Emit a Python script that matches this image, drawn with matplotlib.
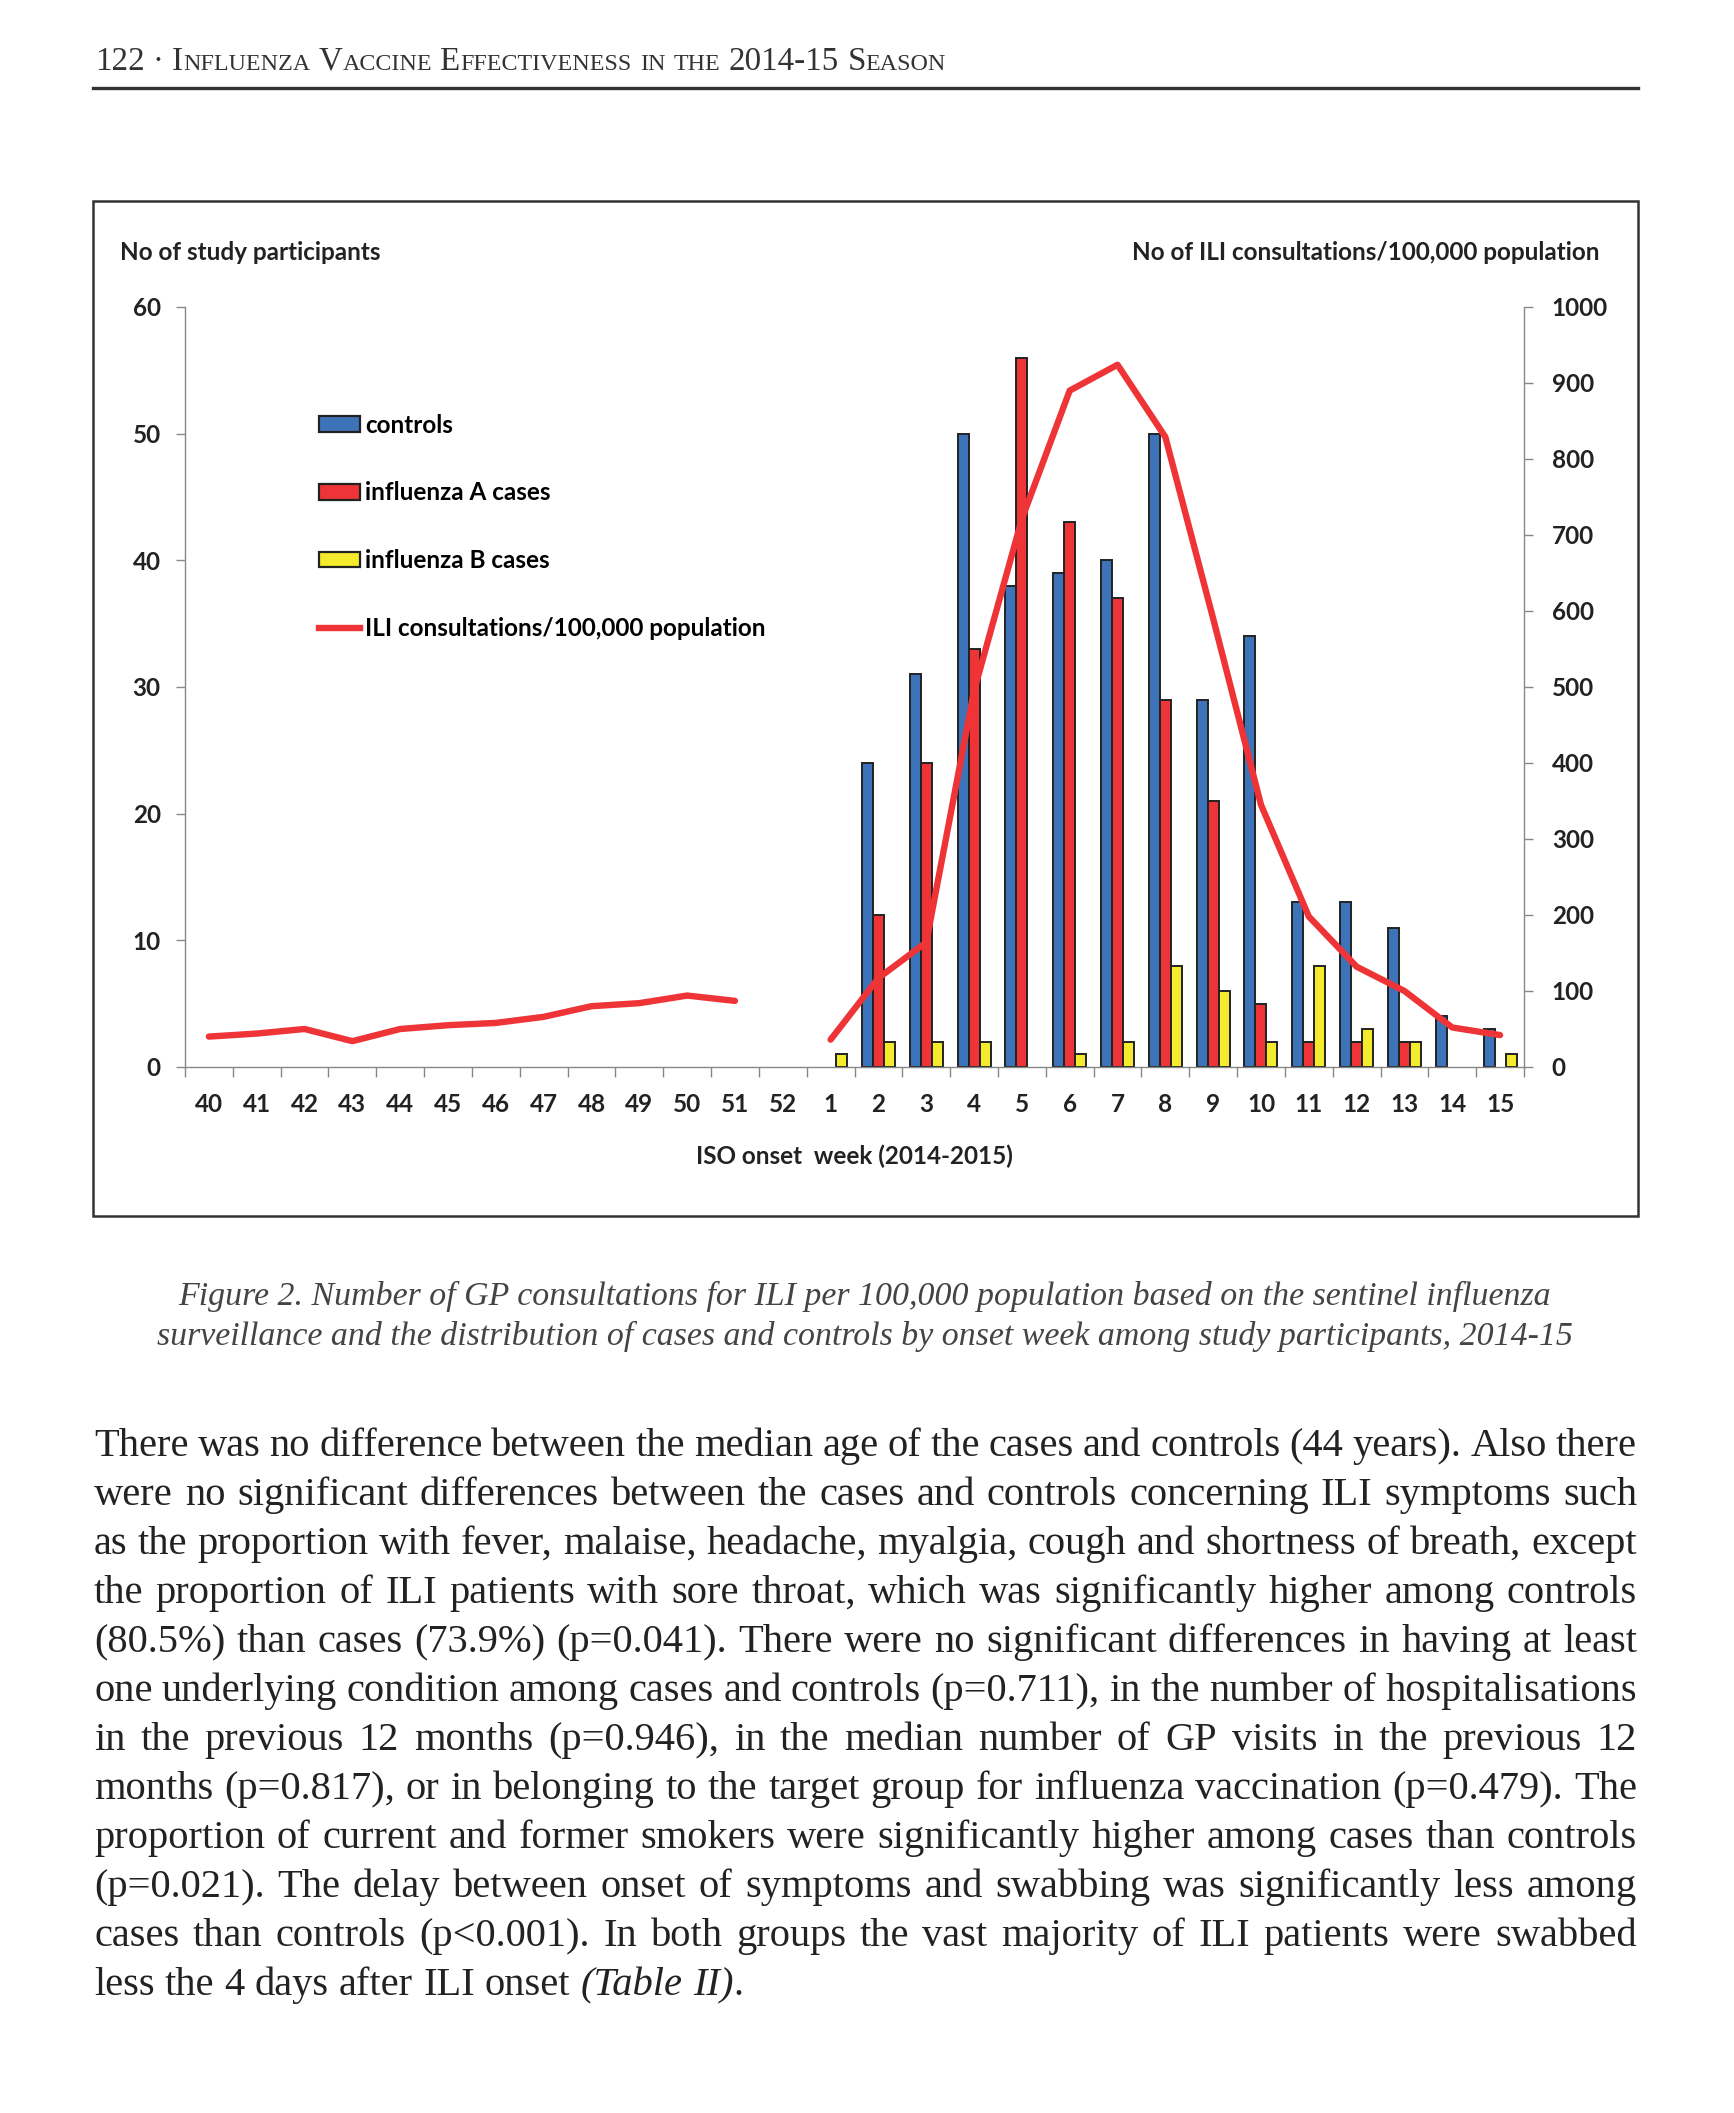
import numpy as np
import matplotlib
matplotlib.use('Agg')
import matplotlib.pyplot as plt
from matplotlib.patches import Patch, Rectangle
from matplotlib.lines import Line2D

# data
weeks = [40, 41, 42, 43, 44, 45, 46, 47, 48, 49, 50, 51, 52,
         1, 2, 3, 4, 5, 6, 7, 8, 9, 10, 11, 12, 13, 14, 15]
controls = [0, 0, 0, 0, 0, 0, 0, 0, 0, 0, 0, 0, 0,
            0, 24, 31, 50, 38, 39, 40, 50, 29, 34, 13, 13, 11, 4, 3]
flu_a = [0, 0, 0, 0, 0, 0, 0, 0, 0, 0, 0, 0, 0,
         0, 12, 24, 33, 56, 43, 37, 29, 21, 5, 2, 2, 2, 0, 0]
flu_b = [0, 0, 0, 0, 0, 0, 0, 0, 0, 0, 0, 0, 0,
         1, 2, 2, 2, 0, 1, 2, 8, 6, 2, 8, 3, 2, 0, 1]
ili = [40, 44, 50, 34, 50, 55, 58, 66, 80, 84, 94, 87, np.nan,
       36, 117, 164, 495, 721, 890, 924, 829, 590, 345, 198, 132, 100, 52, 42]

series_names = ['controls', 'influenza A cases', 'influenza B cases']
ili_name = 'ILI consultations/100,000 population'
left_title = 'No of study participants'
right_title = 'No of ILI consultations/100,000 population'
x_title = 'ISO onset  week (2014-2015)'

caption = ['Figure 2. Number of GP consultations for ILI per 100,000 population based on the sentinel influenza',
           'surveillance and the distribution of cases and controls by onset week among study participants, 2014-15']

body = ['There was no difference between the median age of the cases and controls (44 years). Also there',
        'were no significant differences between the cases and controls concerning ILI symptoms such',
        'as the proportion with fever, malaise, headache, myalgia, cough and shortness of breath, except',
        'the proportion of ILI patients with sore throat, which was significantly higher among controls',
        '(80.5%) than cases (73.9%) (p=0.041). There were no significant differences in having at least',
        'one underlying condition among cases and controls (p=0.711), in the number of hospitalisations',
        'in the previous 12 months (p=0.946), in the median number of GP visits in the previous 12',
        'months (p=0.817), or in belonging to the target group for influenza vaccination (p=0.479). The',
        'proportion of current and former smokers were significantly higher among cases than controls',
        '(p=0.021). The delay between onset of symptoms and swabbing was significantly less among',
        'cases than controls (p<0.001). In both groups the vast majority of ILI patients were swabbed']
body_last = 'less the 4 days after ILI onset'
body_last_it = '(Table II)'

BLUE = '#3d74b9'
RED = '#ee3437'
YEL = '#f3eb2c'
SANS = 'Lato'
SERIF = 'Liberation Serif'
CS = 17.5  # chart font size

fig = plt.figure(figsize=(17.34, 21.13), dpi=100)

# positions in pixels of the 1734x2113 page
def fx(x):
    return x / 1734.0

def fy(y):
    return 1 - y / 2113.0

# chart axes
ax = fig.add_axes([fx(185), fy(1067), fx(1524) - fx(185), fy(307) - fy(1067)])
x = np.arange(len(weeks))
w = 0.23
for vals, off, col in [(controls, -w, BLUE), (flu_a, 0, RED), (flu_b, w, YEL)]:
    v = np.array(vals)
    m = v > 0
    ax.bar(x[m] + off, v[m], width=w, color=col, edgecolor='#222222', linewidth=1.4, zorder=2)

ax.set_xlim(-0.5, len(weeks) - 0.5)
ax.set_ylim(0, 60)
ax.set_yticks(range(0, 61, 10))
ax.set_xticks(x)
ax.set_xticklabels([str(k) for k in weeks])
ax.set_xticks(np.arange(len(weeks) + 1) - 0.5, minor=True)
ax.tick_params(axis='x', which='major', length=0, pad=19)
ax.tick_params(axis='x', which='minor', length=7.2, color='#888888', width=1)
ax.tick_params(axis='y', length=6.5, color='#888888', width=1, pad=11)
for s in ['top', 'right']:
    ax.spines[s].set_visible(False)
for s in ['left', 'bottom']:
    ax.spines[s].set_color('#888888')
    ax.spines[s].set_linewidth(1)

ax2 = ax.twinx()
ax2.plot(x, ili, color=RED, lw=4.6, solid_capstyle='round', zorder=3)
ax2.set_ylim(0, 1000)
ax2.set_yticks(range(0, 1001, 100))
ax2.tick_params(axis='y', length=6.5, color='#888888', width=1, pad=13.5)
for s in ['top', 'left', 'bottom']:
    ax2.spines[s].set_visible(False)
ax2.spines['right'].set_color('#888888')
ax2.spines['right'].set_linewidth(1)

for a in [ax, ax2]:
    for lab in a.get_xticklabels() + a.get_yticklabels():
        lab.set_family(SANS)
        lab.set_weight('bold')
        lab.set_fontsize(CS)
        lab.set_color('#222222')

handles = [Patch(facecolor=c, edgecolor='#222222', linewidth=1.6) for c in [BLUE, RED, YEL]]
handles.append(Line2D([], [], color=RED, lw=4.6))
ax.legend(handles, series_names + [ili_name], loc='upper left', bbox_to_anchor=(0.1001, 0.8597),
          frameon=False, borderpad=0, borderaxespad=0, handlelength=1.69, handleheight=0.62,
          handletextpad=0.2, labelspacing=1.84,
          prop={'family': SANS, 'weight': 'bold', 'size': CS})

fig.text(fx(120), fy(253), left_title, family=SANS, weight='bold', size=CS, va='center', color='#222222')
fig.text(fx(1600), fy(253), right_title, family=SANS, weight='bold', size=CS, va='center', ha='right',
         color='#222222')
fig.text(fx(854), fy(1156), x_title, family=SANS, weight='bold', size=CS, va='center', ha='center',
         color='#222222')

# chart frame and header rule
fig.patches.append(Rectangle((fx(93), fy(1216)), fx(1638) - fx(93), fy(201) - fy(1216),
                             transform=fig.transFigure, fill=False, edgecolor='#333333', lw=1.8))
fig.lines.append(Line2D([fx(93), fx(1638)], [fy(88), fy(88)], transform=fig.transFigure,
                        color='#333333', lw=2.4))

r = fig.canvas.get_renderer()
W = fig.bbox.width

def width(t):
    return t.get_window_extent(r).width

def place_words(words, x0, y, x1=None, gap=None):
    arts = [[fig.text(0, y, s, va='baseline', **kw) for s, kw in wd] for wd in words]
    ws = [sum(width(a) for a in segs) for segs in arts]
    if x1 is not None:
        gap = ((x1 - x0) * W - sum(ws)) / (len(ws) - 1)
    xx = x0 * W
    for segs, wd in zip(arts, ws):
        p = xx
        for a in segs:
            a.set_x(p / W)
            p += width(a)
        xx += wd + gap

def space_w(**kw):
    a = fig.text(0, 0, 'n n', **kw)
    b = fig.text(0, 0, 'nn', **kw)
    g = width(a) - width(b)
    a.remove()
    b.remove()
    return g

# running header in small caps
big = dict(family=SERIF, size=23.8, color='#333333')
sml = dict(family=SERIF, size=17.3, color='#333333')
head = [[('122', big)], [('·', big)], [('I', big), ('NFLUENZA', sml)], [('V', big), ('ACCINE', sml)],
        [('E', big), ('FFECTIVENESS', sml)], [('IN', sml)], [('THE', sml)], [('2014-15', big)],
        [('S', big), ('EASON', sml)]]
place_words(head, fx(95), fy(70), gap=space_w(**big))

# caption
for i, line in enumerate(caption):
    fig.text(fx(865), fy(1305 + 40 * i), line, family=SERIF, style='italic', size=24.4,
             ha='center', va='baseline', color='#444444')

# body text, justified
bkw = dict(family=SERIF, size=29.2, color='#222222')
for i, line in enumerate(body):
    place_words([[(t, bkw)] for t in line.split()], fx(94), fy(1456 + 49 * i), x1=fx(1637))
ikw = dict(bkw, style='italic')
last = [[(t, bkw)] for t in body_last.split()]
it = body_last_it.split()
last.append([(it[0], ikw)])
last.append([(it[1], ikw), ('.', bkw)])
place_words(last, fx(94), fy(1456 + 49 * len(body)), gap=space_w(**bkw))

fig.savefig('out.png', dpi=100)
